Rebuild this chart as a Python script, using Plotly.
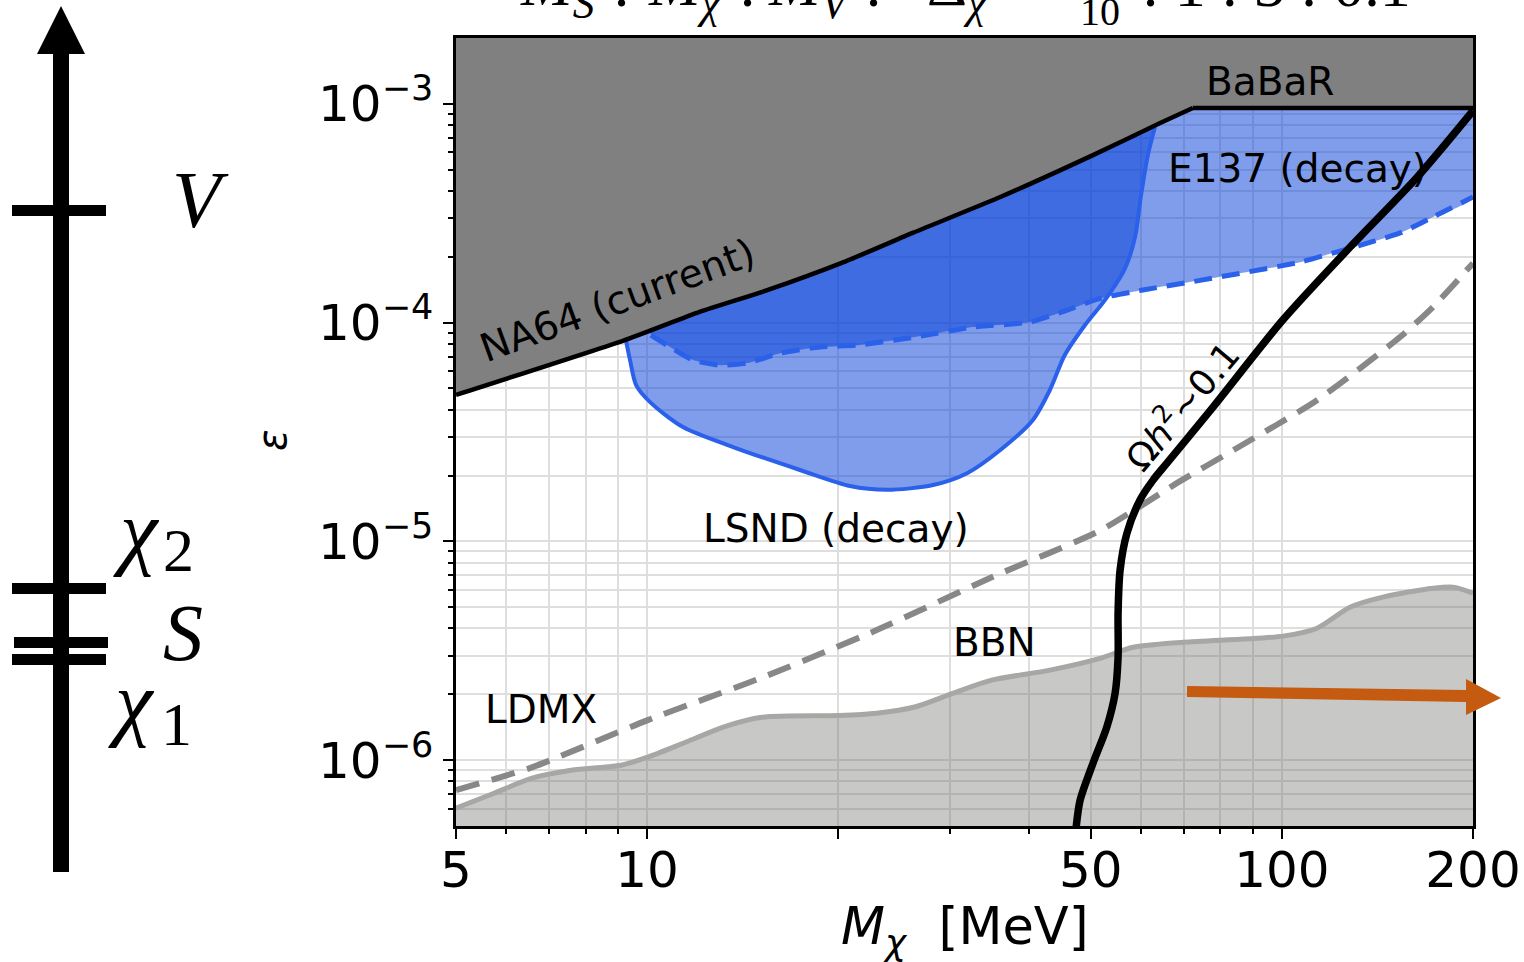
import numpy as np
import plotly.graph_objects as go

# ---------------- data: M_chi [MeV] vs epsilon ----------------
na64_m = [5, 9.2, 12.1, 15.5, 20.4, 26.2, 36.0, 50.4, 64.3, 72.4]
na64_eps = [4.67e-5, 8.3e-5, 1.12e-4, 1.41e-4, 1.89e-4, 2.57e-4, 3.75e-4, 5.83e-4, 8.17e-4, 9.57e-4]

babar_m = [72.4, 200]
babar_eps = [9.57e-4, 9.57e-4]

lsnd_m = [9.26, 9.40, 9.61, 10.11, 11.39, 13.66, 17.41, 20.88, 23.88, 28.21, 31.92,
          35.97, 40.5, 43.1, 45.5, 48.97, 52.65, 56.6, 58.7, 60.0, 61.5, 63.1]
lsnd_eps = [8.32e-5, 6.74e-5, 5.18e-5, 4.33e-5, 3.33e-5, 2.70e-5, 2.12e-5, 1.79e-5, 1.72e-5,
            1.81e-5, 2.05e-5, 2.61e-5, 3.58e-5, 4.92e-5, 7.11e-5, 9.75e-5, 1.27e-4, 1.77e-4,
            2.46e-4, 3.83e-4, 5.83e-4, 7.83e-4]

e137_m = [10.14, 10.87, 11.81, 13.03, 14.37, 16.25, 18.73, 21.49, 26.43, 32.62, 40.1,
          45.9, 51.7, 60.4, 74.3, 106.8, 120.3, 153.5, 173, 200]
e137_eps = [8.77e-5, 7.73e-5, 6.74e-5, 6.39e-5, 6.53e-5, 7.26e-5, 7.73e-5, 7.89e-5, 8.59e-5,
            9.54e-5, 1.006e-4, 1.14e-4, 1.29e-4, 1.41e-4, 1.56e-4, 1.89e-4, 2.08e-4, 2.57e-4,
            3.04e-4, 3.75e-4]

relic_m = [47.4, 48.1, 50.4, 53.0, 54.6, 55.2, 55.2, 55.6, 57.0, 59.8, 62.7, 65.9, 77.9,
           100.4, 128, 163.3, 200]
relic_eps = [4.9e-7, 6.56e-7, 9.68e-7, 1.42e-6, 2.02e-6, 2.96e-6, 4.70e-6, 7.38e-6, 1.09e-5,
             1.55e-5, 1.91e-5, 2.28e-5, 4.11e-5, 1.03e-4, 2.21e-4, 4.62e-4, 9.3e-4]

ldmx_m = [5, 6.6, 10, 15.2, 23, 34.9, 51.7, 68.4, 83.8, 113.6, 153.5, 173, 200]
ldmx_eps = [7.29e-7, 9.29e-7, 1.52e-6, 2.39e-6, 3.93e-6, 6.86e-6, 1.12e-5, 1.85e-5, 2.61e-5,
            4.42e-5, 8.59e-5, 1.18e-4, 1.87e-4]

bbn_m = [5, 5.74, 6.59, 7.59, 9.1, 10, 11.52, 13.22, 15.17, 20.1, 23, 26.4, 30.3, 34.9,
         43.1, 51.7, 58.3, 69.9, 100.4, 113.6, 128, 144.2, 173, 186, 200]
bbn_eps = [6.03e-7, 7.06e-7, 8.27e-7, 8.99e-7, 9.48e-7, 1.03e-6, 1.21e-6, 1.42e-6, 1.57e-6,
           1.60e-6, 1.64e-6, 1.75e-6, 2.02e-6, 2.32e-6, 2.58e-6, 2.92e-6, 3.28e-6, 3.46e-6,
           3.69e-6, 4.01e-6, 5.0e-6, 5.56e-6, 6.11e-6, 6.18e-6, 5.80e-6]

x_ticks = [5, 10, 20, 50, 100, 200]
x_ticktext = ["5", "10", "", "50", "100", "200"]
y_ticks = [1e-6, 1e-5, 1e-4, 1e-3]
y_ticktext = ["10<sup>\u22126</sup>", "10<sup>\u22125</sup>", "10<sup>\u22124</sup>", "10<sup>\u22123</sup>"]

X_RANGE = (5, 200)
Y_RANGE = (5e-7, 2e-3)
Y_TOP_OUT = 5e-3     # closes exclusion polygons above the frame
Y_BOT_OUT = 1e-7     # closes BBN polygon below the frame

# ---------------- figure geometry ----------------
W, H = 1524, 962
ML, MR, MT, MB = 456, 51, 38, 136
PW, PH = W - ML - MR, H - MT - MB


def px(x):
    return (x - ML) / PW


def py(y):
    return 1 - (y - MT) / PH


BLUE_FILL = "rgba(0,59,215,0.5)"
BLUE_LINE = "#2a60ea"
GRID = "#dedede"

fig = go.Figure()

# BBN excluded band
fig.add_trace(go.Scatter(
    x=bbn_m + [bbn_m[-1], bbn_m[0]], y=bbn_eps + [Y_BOT_OUT, Y_BOT_OUT],
    fill="toself", fillcolor="rgba(110,114,106,0.38)", mode="lines",
    line=dict(width=0, shape="spline", smoothing=0.8), hoverinfo="skip"))
fig.add_trace(go.Scatter(
    x=bbn_m, y=bbn_eps, mode="lines",
    line=dict(color="#a6a8a5", width=5, shape="spline", smoothing=0.8), hoverinfo="skip"))

# LDMX projection
fig.add_trace(go.Scatter(
    x=ldmx_m, y=ldmx_eps, mode="lines",
    line=dict(color="#888888", width=6, dash="24px,13px", shape="spline", smoothing=0.6),
    hoverinfo="skip"))

# LSND (decay)
fig.add_trace(go.Scatter(
    x=lsnd_m + [lsnd_m[-1], lsnd_m[0]], y=lsnd_eps + [Y_TOP_OUT, Y_TOP_OUT],
    fill="toself", fillcolor=BLUE_FILL, mode="lines",
    line=dict(width=0, shape="spline", smoothing=0.8), hoverinfo="skip"))
# E137 (decay)
fig.add_trace(go.Scatter(
    x=e137_m + [e137_m[-1], e137_m[0]], y=e137_eps + [Y_TOP_OUT, Y_TOP_OUT],
    fill="toself", fillcolor=BLUE_FILL, mode="lines",
    line=dict(width=0, shape="spline", smoothing=0.6), hoverinfo="skip"))
fig.add_trace(go.Scatter(
    x=lsnd_m, y=lsnd_eps, mode="lines",
    line=dict(color=BLUE_LINE, width=4, shape="spline", smoothing=0.8), hoverinfo="skip"))
fig.add_trace(go.Scatter(
    x=e137_m, y=e137_eps, mode="lines",
    line=dict(color=BLUE_LINE, width=5, dash="18px,10px", shape="spline", smoothing=0.6),
    hoverinfo="skip"))

# NA64 + BaBaR excluded region
bound_m = na64_m + babar_m[1:]
bound_eps = na64_eps + babar_eps[1:]
fig.add_trace(go.Scatter(
    x=bound_m + [bound_m[-1], bound_m[0]], y=bound_eps + [Y_TOP_OUT, Y_TOP_OUT],
    fill="toself", fillcolor="#808080", mode="lines", line=dict(width=0), hoverinfo="skip"))
fig.add_trace(go.Scatter(
    x=na64_m, y=na64_eps, mode="lines",
    line=dict(color="black", width=4.5, shape="spline", smoothing=0.5), hoverinfo="skip"))
fig.add_trace(go.Scatter(
    x=babar_m, y=babar_eps, mode="lines", line=dict(color="black", width=4.5),
    hoverinfo="skip"))

# relic abundance line
fig.add_trace(go.Scatter(
    x=relic_m, y=relic_eps, mode="lines",
    line=dict(color="black", width=7.5, shape="spline", smoothing=0.8), hoverinfo="skip"))


def minor_vals(lo, hi):
    out = []
    for e in range(int(np.floor(np.log10(lo))) - 1, int(np.ceil(np.log10(hi))) + 1):
        for k in range(2, 10):
            v = k * 10.0 ** e
            if lo < v < hi:
                out.append(v)
    return out


x_minor = [v for v in minor_vals(*X_RANGE) if v not in x_ticks]
y_minor = minor_vals(*Y_RANGE)

axis_common = dict(
    showline=True, linecolor="black", linewidth=2.5, mirror=True,
    ticks="outside", ticklen=10, tickwidth=2, tickcolor="black",
    showgrid=True, gridcolor=GRID, gridwidth=2, zeroline=False,
    tickfont=dict(size=50, family="DejaVu Sans", color="black"),
    layer="below traces", automargin=False,
)

fig.update_xaxes(
    type="log", range=[np.log10(X_RANGE[0]), np.log10(X_RANGE[1])],
    tickmode="array", tickvals=x_ticks, ticktext=x_ticktext, ticklabelstandoff=-12,
    minor=dict(tickvals=x_minor, ticks="outside", ticklen=5, tickwidth=1.5, tickcolor="black",
               showgrid=True, gridcolor=GRID, gridwidth=2),
    **axis_common)
fig.update_yaxes(
    type="log", range=[np.log10(Y_RANGE[0]), np.log10(Y_RANGE[1])],
    tickmode="array", tickvals=y_ticks, ticktext=y_ticktext,
    minor=dict(tickvals=y_minor, ticks="outside", ticklen=5, tickwidth=1.5, tickcolor="black",
               showgrid=True, gridcolor=GRID, gridwidth=2),
    **axis_common)

ann = []


def data_label(text, m, eps, size=39, angle=0):
    ann.append(dict(x=np.log10(m), y=np.log10(eps), xref="x", yref="y", text=text,
                    showarrow=False, textangle=angle, xanchor="center", yanchor="middle",
                    font=dict(size=size, family="DejaVu Sans", color="black")))


data_label("BaBaR", 95.8, 1.26e-3)
data_label("E137 (decay)", 106, 5.09e-4)
data_label("LSND (decay)", 19.85, 1.15e-5)
data_label("BBN", 35.2, 3.46e-6)
data_label("LDMX", 6.81, 1.71e-6)
data_label("NA64 (current)", 8.97, 1.26e-4, size=39, angle=-20)
data_label("\u03a9<i>h</i><sup>2</sup>\u223c0.1", 69.3, 4.2e-5, size=36, angle=-50)


def paper_text(text, x, y, size, family="DejaVu Sans", xanchor="center", yanchor="middle",
               angle=0):
    ann.append(dict(x=px(x), y=py(y), xref="paper", yref="paper", text=text, showarrow=False,
                    xanchor=xanchor, yanchor=yanchor, textangle=angle,
                    font=dict(size=size, family=family, color="black")))


# axis titles
paper_text("<i>M</i><sub><i>\u03c7</i></sub>  [MeV]", 965, 930, 51)
paper_text("<i>\u03b5</i>", 272, 440, 40, angle=-90)

# mass-ratio heading (runs off the top edge)
SERIF = "Liberation Serif"
HEAD = 62
heading_parts = [
    ("<i>M</i><sub><i>S</i></sub>", 557, -11.5),
    (":", 621, -15),
    ("<i>M</i><sub><i>\u03c7</i></sub>", 684, -11.5),
    (":", 747, -15),
    ("<i>M</i><sub><i>V</i></sub>", 810, -11.5),
    (":", 873, -15),
    ("\u0394<sub><i>\u03c7</i></sub>", 957, -11.5),
    ("=", 1040, -15),
]
for txt, hx, hy in heading_parts:
    paper_text(txt, hx, hy, HEAD, family=SERIF)
paper_text("1", 1100, -34, 40, family=SERIF)
paper_text("10", 1100, 11.5, 40, family=SERIF)
paper_text(": 1 : 3 : 0.1", 1140, -15, HEAD, family=SERIF, xanchor="left")

# spectrum sketch labels
paper_text("<i>V</i>", 200, 200, 80, family=SERIF)
paper_text("<i>\u03c7</i>", 136, 530, 85, family=SERIF)
paper_text("2", 178, 550, 62, family=SERIF)
paper_text("<i>S</i>", 183, 633, 80, family=SERIF)
paper_text("<i>\u03c7</i>", 131, 701, 85, family=SERIF)
paper_text("1", 176, 724, 62, family=SERIF)

shapes = []


def rect(x0, y0, x1, y1, color="black"):
    shapes.append(dict(type="rect", xref="paper", yref="paper",
                       x0=px(x0), x1=px(x1), y0=py(y1), y1=py(y0),
                       fillcolor=color, line=dict(width=0), layer="above"))


def poly(points, color):
    path = "M " + " L ".join(f"{px(a):.5f},{py(b):.5f}" for a, b in points) + " Z"
    shapes.append(dict(type="path", xref="paper", yref="paper", path=path,
                       fillcolor=color, line=dict(width=0), layer="above"))


# energy-level sketch: vertical arrow and level bars
rect(53, 52, 69, 872)
poly([(37, 54), (85, 54), (61, 6)], "black")
rect(12, 205, 106, 216)   # V
rect(12, 583, 106, 594)   # chi_2
rect(14, 637, 108, 648)   # S
rect(12, 654, 106, 665)   # chi_1

# orange arrow
poly([(1187, 686), (1466, 690), (1466, 679), (1501, 698), (1466, 715), (1466, 702),
      (1187, 697)], "#c55a11")

fig.update_layout(
    width=W, height=H, margin=dict(l=ML, r=MR, t=MT, b=MB, pad=0, autoexpand=False),
    paper_bgcolor="white", plot_bgcolor="white", showlegend=False,
    font=dict(family="DejaVu Sans", color="black"),
    annotations=ann, shapes=shapes,
)

fig.write_html("out.html")
